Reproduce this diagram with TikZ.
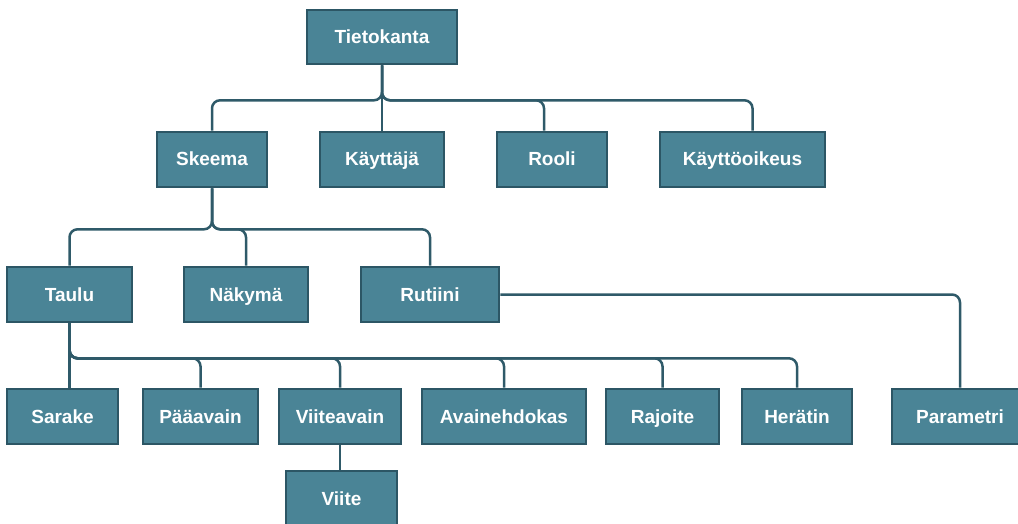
\documentclass[tikz,border=0pt]{standalone}
\usepackage{fontspec}
\setmainfont{Liberation Sans}
\usetikzlibrary{calc}
\definecolor{boxfill}{RGB}{74,132,150}
\definecolor{boxline}{RGB}{44,86,101}
\definecolor{wirecol}{RGB}{47,90,105}
\begin{document}
\begin{tikzpicture}[x=1pt, y=-1pt,
  box/.style={draw=boxline, fill=boxfill, line width=2.6pt, minimum height=55pt,
    inner sep=0pt, text height=15.5pt, text depth=2.5pt, text=white,
    font=\fontsize{19}{22}\selectfont\bfseries},
  wire/.style={draw=wirecol, line width=2.5pt, rounded corners=8pt}]
  \useasboundingbox (0,0) rectangle (1018,524);
  \clip (0,0) rectangle (1018,524);

  % level 0
  \node[box, minimum width=150pt, minimum height=54pt] (tk) at (382,37) {Tietokanta};

  % level 1
  \node[box, minimum width=110pt] (skeema)   at (212,159.5)   {Skeema};
  \node[box, minimum width=124pt] (kayttaja) at (382,159.5)   {Käyttäjä};
  \node[box, minimum width=110pt] (rooli)    at (552,159.5)   {Rooli};
  \node[box, minimum width=165pt] (oikeus)   at (742.5,159.5) {Käyttöoikeus};

  % level 2
  \node[box, minimum width=125pt] (taulu)   at (69.5,294.5) {Taulu};
  \node[box, minimum width=124pt] (nakyma)  at (246,294.5)  {Näkymä};
  \node[box, minimum width=138pt] (rutiini) at (430,294.5)  {Rutiini};

  % level 3
  \node[box, minimum width=111pt] (sarake)  at (62.5,416.5)  {Sarake};
  \node[box, minimum width=115pt] (paa)     at (200.5,416.5) {Pääavain};
  \node[box, minimum width=122pt] (viiteav) at (340,416.5)   {Viiteavain};
  \node[box, minimum width=164pt] (ehdokas) at (504,416.5)   {Avainehdokas};
  \node[box, minimum width=113pt] (rajoite) at (662.5,416.5) {Rajoite};
  \node[box, minimum width=110pt] (heratin) at (797,416.5)   {Herätin};
  \node[box, minimum width=136pt] (param)   at (960,416.5)   {Parametri};

  % level 4
  \node[box, minimum width=111pt] (viite) at (341.5,498.5) {Viite};

  % Tietokanta branches
  \draw[wire] (tk.south) -- ++(0,35) -| (skeema.north);
  \draw[wire] (tk.south) -- (kayttaja.north);
  \draw[wire] (tk.south) -- ++(0,35) -| ($(rooli.north)+(-8,0)$);
  \draw[wire] (tk.south) -- ++(0,35) -| ($(oikeus.north)+(10,0)$);

  % Skeema branches
  \draw[wire] (skeema.south) -- ++(0,41) -| (taulu.north);
  \draw[wire] (skeema.south) -- ++(0,41) -| (nakyma.north);
  \draw[wire] (skeema.south) -- ++(0,41) -| (rutiini.north);

  % Taulu branches
  \draw[wire] (taulu.south) -- (taulu.south |- sarake.north);
  \draw[wire] (taulu.south) -- ++(0,35) -| (paa.north);
  \draw[wire] (taulu.south) -- ++(0,35) -| (viiteav.north);
  \draw[wire] (taulu.south) -- ++(0,35) -| (ehdokas.north);
  \draw[wire] (taulu.south) -- ++(0,35) -| (rajoite.north);
  \draw[wire] (taulu.south) -- ++(0,35) -| (heratin.north);

  % Rutiini and Viiteavain
  \draw[wire] (rutiini.east) -| (param.north);
  \draw[wire] (viiteav.south) -- (viiteav.south |- viite.north);
\end{tikzpicture}
\end{document}
